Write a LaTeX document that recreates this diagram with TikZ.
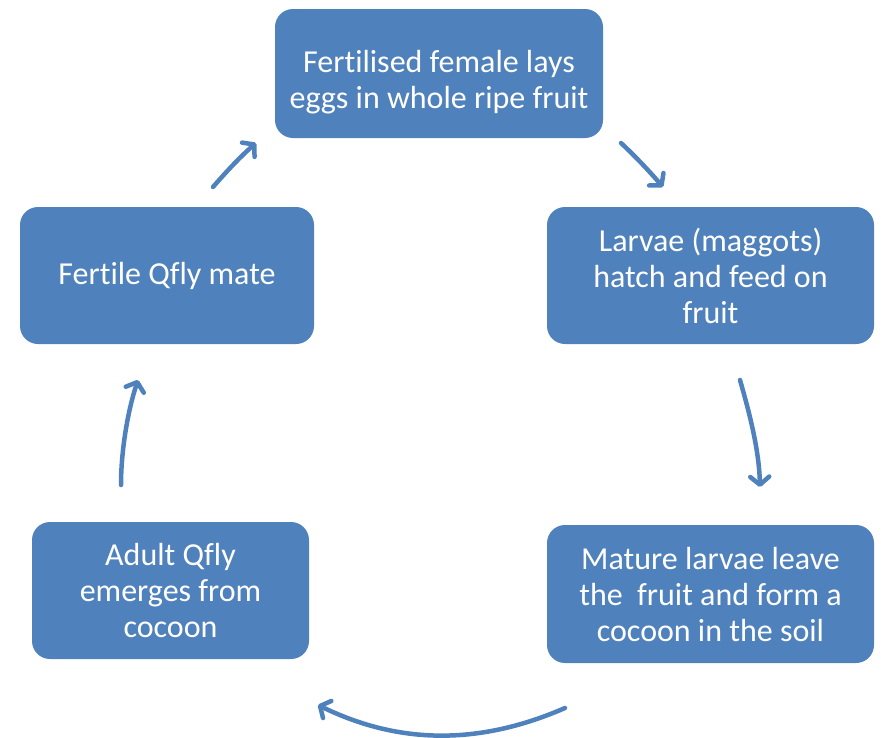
\documentclass[tikz,border=0pt]{standalone}
\usepackage{fontspec}
\setmainfont{Carlito}[Ligatures=NoCommon]
\usetikzlibrary{arrows.meta}
\definecolor{cycleblue}{HTML}{4F81BD}
\begin{document}
\begin{tikzpicture}[x=1pt,y=-1pt,
	stage/.style={fill=cycleblue, rounded corners=18pt, text=white, align=center,
		font=\fontsize{32}{36}\selectfont, inner sep=0pt},
	cyc/.style={line width=4.5pt, draw=cycleblue, line cap=round,
		-{Straight Barb[length=8pt,width=19pt,round]}}]
	\useasboundingbox (0,0) rectangle (881,737);
	% the five stages
	\node[stage, minimum width=328pt, minimum height=129pt] (eggs) at (439,73.5) {\rule{0pt}{40pt}Fertilised female lays\\eggs in whole ripe fruit};
	\node[stage, minimum width=327pt, minimum height=137pt] (larvae) at (710.5,275.5) {Larvae (maggots)\\hatch and feed on\\fruit};
	\node[stage, minimum width=327pt, minimum height=138pt] (mature) at (710.5,594) {Mature larvae leave\\the~ fruit and form a\\cocoon in the soil};
	\node[stage, minimum width=277pt, minimum height=137pt] (adult) at (170.5,590.5) {Adult Qfly\\emerges from\\cocoon};
	\node[stage, minimum width=294pt, minimum height=137pt] (mate) at (167,275.5) {Fertile Qfly mate};
	% arrow ends
	\coordinate (a1) at (621,143);  \coordinate (b1) at (663,187);
	\coordinate (a2) at (740,380);  \coordinate (b2) at (760,487);
	\coordinate (a3) at (565,708);  \coordinate (b3) at (318,705);
	\coordinate (a4) at (121,485);  \coordinate (b4) at (138,380);
	\coordinate (a5) at (213,187);  \coordinate (b5) at (256,143);
	\draw[cyc] (a1) .. controls (636,157) and (650,172) .. (b1);
	\draw[cyc] (a2) .. controls (750,415) and (759,450) .. (b2);
	\draw[cyc] (a3) .. controls (480,745) and (400,745) .. (b3);
	\draw[cyc] (a4) .. controls (121,450) and (128,410) .. (b4);
	\draw[cyc] (a5) .. controls (226,172) and (240,157) .. (b5);
\end{tikzpicture}
\end{document}
